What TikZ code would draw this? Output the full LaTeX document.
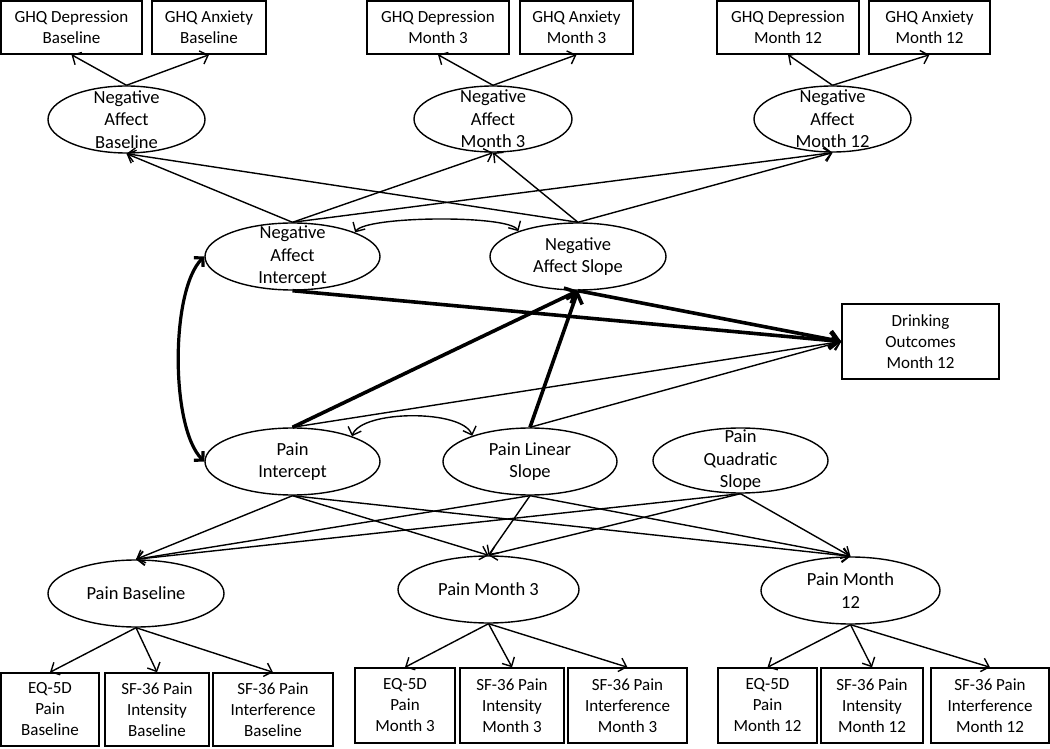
\documentclass[tikz,border=0pt]{standalone}
\usepackage{fontspec}
\setmainfont{Carlito}
\usetikzlibrary{arrows.meta,shapes.geometric}
\begin{document}
\begin{tikzpicture}[x=1pt,y=1pt,
  txt/.style={align=center,inner sep=0pt,font=\fontsize{17}{21}\selectfont},
  etxt/.style={align=center,inner sep=0pt,font=\fontsize{18.5}{22.5}\selectfont},
  box/.style={draw,line width=1.5pt,rectangle,inner sep=0pt,txt},
  lat/.style={draw,line width=1.4pt,ellipse,inner sep=0pt},
  arr/.style={line width=1.4pt,-{Straight Barb[length=7pt,width=14pt]}},
  darr/.style={line width=1.4pt,{Straight Barb[length=7pt,width=14pt]}-{Straight Barb[length=7pt,width=14pt]}},
  tarr/.style={line width=3.6pt,-{Straight Barb[length=9pt,width=17pt]}},
  tdarr/.style={line width=3.2pt,{Straight Barb[length=6pt,width=13pt]}-{Straight Barb[length=6pt,width=13pt]}},
  ]
\useasboundingbox (0,0) rectangle (1050,748);
% top indicator boxes
\node[box,minimum width=141pt,minimum height=53pt] (gdb) at (71.5,720.5) {GHQ Depression\\Baseline};
\node[box,minimum width=114pt,minimum height=53pt] (gab) at (209,720.5) {GHQ Anxiety\\Baseline};
\node[box,minimum width=142pt,minimum height=53pt] (gd3) at (438,720.5) {GHQ Depression\\Month 3};
\node[box,minimum width=113pt,minimum height=53pt] (ga3) at (576.5,720.5) {GHQ Anxiety\\Month 3};
\node[box,minimum width=142pt,minimum height=53pt] (gd12) at (788,720.5) {GHQ Depression\\Month 12};
\node[box,minimum width=121pt,minimum height=53pt] (ga12) at (929.5,720.5) {GHQ Anxiety\\Month 12};
% negative affect time points
\node[lat,minimum width=157pt,minimum height=67pt,label={[etxt]center:{Negative\\Affect\\Baseline}}] (nab) at (126.5,628.5) {};
\node[lat,minimum width=158pt,minimum height=66pt,label={[etxt]center:{Negative\\Affect\\Month 3}}] (na3) at (493,629) {};
\node[lat,minimum width=157pt,minimum height=66pt,label={[etxt]center:{Negative\\Affect\\Month 12}}] (na12) at (832.5,629) {};
% growth factors
\node[lat,minimum width=175pt,minimum height=67pt,label={[etxt]center:{Negative\\Affect\\Intercept}}] (nai) at (292.5,491.5) {};
\node[lat,minimum width=176pt,minimum height=67pt,label={[etxt]center:{Negative\\Affect Slope}}] (nas) at (578,491.5) {};
\node[box,minimum width=157pt,minimum height=75pt] (dr) at (920.5,406.5) {Drinking\\Outcomes\\Month 12};
\node[lat,minimum width=175pt,minimum height=67pt,label={[etxt]center:{Pain\\Intercept}}] (pi) at (292.5,286.5) {};
\node[lat,minimum width=174pt,minimum height=67pt,label={[etxt]center:{Pain Linear\\Slope}}] (pls) at (530,286.5) {};
\node[lat,minimum width=175pt,minimum height=65pt,label={[etxt]center:{Pain\\Quadratic\\Slope}}] (pq) at (740.5,287.5) {};
% pain time points
\node[lat,minimum width=176pt,minimum height=67pt,label={[etxt]center:{Pain Baseline}}] (pb) at (136,154.5) {};
\node[lat,minimum width=181pt,minimum height=67pt,label={[etxt]center:{Pain Month 3}}] (p3) at (488.5,158.5) {};
\node[lat,minimum width=179pt,minimum height=67pt,label={[etxt]center:{Pain Month\\12}}] (p12) at (850.5,157.5) {};
% bottom indicator boxes
\node[box,minimum width=98pt,minimum height=73pt] (eqb) at (50,38.5) {EQ-5D\\Pain\\Baseline};
\node[box,minimum width=104pt,minimum height=73pt] (sib) at (157,38.5) {SF-36 Pain\\Intensity\\Baseline};
\node[box,minimum width=120pt,minimum height=73pt] (sfb) at (273,38.5) {SF-36 Pain\\Interference\\Baseline};
\node[box,minimum width=100pt,minimum height=75pt] (eq3) at (405,42.5) {EQ-5D\\Pain\\Month 3};
\node[box,minimum width=104pt,minimum height=75pt] (si3) at (512,42.5) {SF-36 Pain\\Intensity\\Month 3};
\node[box,minimum width=119pt,minimum height=75pt] (sf3) at (627.5,42.5) {SF-36 Pain\\Interference\\Month 3};
\node[box,minimum width=99pt,minimum height=75pt] (eq12) at (767.5,42.5) {EQ-5D\\Pain\\Month 12};
\node[box,minimum width=102pt,minimum height=75pt] (si12) at (872,42.5) {SF-36 Pain\\Intensity\\Month 12};
\node[box,minimum width=118pt,minimum height=75pt] (sf12) at (990,42.5) {SF-36 Pain\\Interference\\Month 12};
% loadings top
\draw[arr] (nab.north) -- (gdb.south);
\draw[arr] (nab.north) -- (gab.south);
\draw[arr] (na3.north) -- (gd3.south);
\draw[arr] (na3.north) -- (ga3.south);
\draw[arr] (na12.north) -- (gd12.south);
\draw[arr] (na12.north) -- (ga12.south);
% NA growth
\foreach \s in {nai,nas} {
  \foreach \t in {nab,na3,na12} {
    \draw[arr] (\s.north) -- (\t.south);
  }
}
\draw[darr] (nai.21) to[out=60,in=120,looseness=0.3] (nas.157);
% structural paths
\draw[tarr] (nai.south) -- (dr.west);
\draw[tarr] (nas.south) -- (dr.west);
\draw[tarr] (pi.north) -- (nas.south);
\draw[tarr] (pls.north) -- (nas.south);
\draw[arr] (pi.north) -- (dr.west);
\draw[arr] (pls.north) -- (dr.west);
\draw[tdarr] (nai.west) to[out=225,in=135,looseness=0.6] (pi.west);
\draw[darr] (pi.23) to[out=70,in=110,looseness=0.6] (pls.156);
% pain growth
\foreach \s in {pi,pls,pq} {
  \foreach \t in {pb,p3,p12} {
    \draw[arr] (\s.south) -- (\t.north);
  }
}
% loadings bottom
\draw[arr] (pb.south) -- (eqb.north);
\draw[arr] (pb.south) -- (sib.north);
\draw[arr] (pb.south) -- (sfb.north);
\draw[arr] (p3.south) -- (eq3.north);
\draw[arr] (p3.south) -- (si3.north);
\draw[arr] (p3.south) -- (sf3.north);
\draw[arr] (p12.south) -- (eq12.north);
\draw[arr] (p12.south) -- (si12.north);
\draw[arr] (p12.south) -- (sf12.north);
\end{tikzpicture}
\end{document}
